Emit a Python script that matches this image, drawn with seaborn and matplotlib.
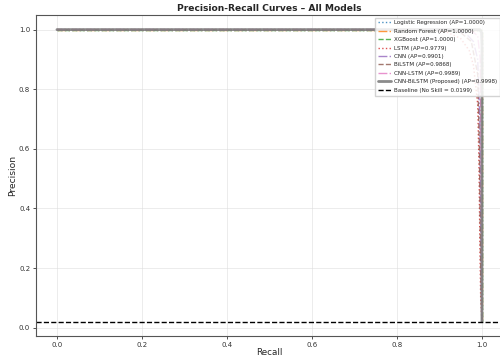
import numpy as np
import pandas as pd
import matplotlib
matplotlib.use("Agg")
import matplotlib.pyplot as plt
import seaborn as sns

# Model names and average precision scores
models = ["Logistic Regression", "Random Forest", "XGBoost", "LSTM", "CNN",
          "BiLSTM", "CNN-LSTM", "CNN-BiLSTM (Proposed)"]
ap_scores = [1.0000, 1.0000, 1.0000, 0.9779, 0.9901, 0.9868, 0.9989, 0.9998]
baseline = 0.0199

# Precision-recall points per model
recall_lr = [0.0, 1.0, 1.0]
prec_lr = [1.0, 1.0, 0.0199]
recall_rf = [0.0, 1.0, 1.0]
prec_rf = [1.0, 1.0, 0.0199]
recall_xgb = [0.0, 1.0, 1.0]
prec_xgb = [1.0, 1.0, 0.0199]
recall_lstm = [0.0, 0.88, 0.92, 0.95, 0.97, 0.98, 0.99, 0.993, 0.995, 0.997, 1.0]
prec_lstm = [1.0, 1.0, 0.99, 0.97, 0.93, 0.88, 0.75, 0.55, 0.30, 0.10, 0.0199]
recall_cnn = [0.0, 0.93, 0.96, 0.98, 0.99, 0.995, 0.998, 1.0]
prec_cnn = [1.0, 1.0, 0.99, 0.96, 0.90, 0.70, 0.20, 0.0199]
recall_bilstm = [0.0, 0.92, 0.95, 0.975, 0.99, 0.994, 0.997, 1.0]
prec_bilstm = [1.0, 1.0, 0.99, 0.96, 0.85, 0.60, 0.20, 0.0199]
recall_cnnlstm = [0.0, 0.97, 0.99, 0.996, 0.999, 1.0]
prec_cnnlstm = [1.0, 1.0, 0.98, 0.90, 0.40, 0.0199]
recall_prop = [0.0, 0.995, 0.999, 1.0, 1.0]
prec_prop = [1.0, 1.0, 0.99, 0.95, 0.0199]

recalls = [recall_lr, recall_rf, recall_xgb, recall_lstm, recall_cnn,
           recall_bilstm, recall_cnnlstm, recall_prop]
precisions = [prec_lr, prec_rf, prec_xgb, prec_lstm, prec_cnn,
              prec_bilstm, prec_cnnlstm, prec_prop]

palette = sns.color_palette("tab10")
colors = [palette[i] for i in range(8)]
styles = [":", "-.", "--", ":", "-.", "--", "-.", "-"]
widths = [1.0, 1.0, 1.0, 1.0, 1.0, 1.0, 1.0, 2.0]
alphas = [0.8, 0.8, 0.8, 0.8, 0.8, 0.8, 0.8, 0.9]

sns.set_style("ticks")
plt.rcParams["font.family"] = ["DejaVu Sans"]

fig = plt.figure(figsize=(5.0, 3.56), dpi=100)
ax = fig.add_axes([0.0714, 0.0562, 0.935, 0.9025])

for name, ap, r, p, c, ls, lw, a in zip(models, ap_scores, recalls, precisions,
                                        colors, styles, widths, alphas):
    df = pd.DataFrame({"Recall": r, "Precision": p})
    sns.lineplot(data=df, x="Recall", y="Precision", ax=ax, sort=False,
                 estimator=None, color=c, linestyle=ls, linewidth=lw, alpha=a,
                 label=f"{name} (AP={ap:.4f})")

ax.axhline(baseline, color="black", linestyle="--", linewidth=1.0,
           label=f"Baseline (No Skill = {baseline:.4f})")

ax.set_xlim(-0.05, 1.05)
ax.set_ylim(-0.028, 1.05)
ax.set_xticks([0.0, 0.2, 0.4, 0.6, 0.8, 1.0])
ax.set_yticks([0.0, 0.2, 0.4, 0.6, 0.8, 1.0])
ax.tick_params(labelsize=5, length=2, width=0.6, pad=2, colors="#333333")
ax.grid(True, color="#dddddd", linewidth=0.5, alpha=0.8)
for s in ax.spines.values():
    s.set_color("#555555")
    s.set_linewidth(0.8)

ax.set_xlabel("Recall", fontsize=6.3, labelpad=0.5)
ax.set_ylabel("Precision", fontsize=6.6, labelpad=1.5)
ax.set_title("Precision-Recall Curves \u2013 All Models", fontsize=6.6,
             fontweight="bold", pad=3)
ax.legend(loc="upper right", fontsize=4.1, frameon=True, framealpha=0.85,
          handlelength=2.3, labelspacing=0.6, borderpad=0.5,
          handletextpad=0.6, edgecolor="#cccccc", fancybox=False)

fig.savefig("out.png", dpi=100)
